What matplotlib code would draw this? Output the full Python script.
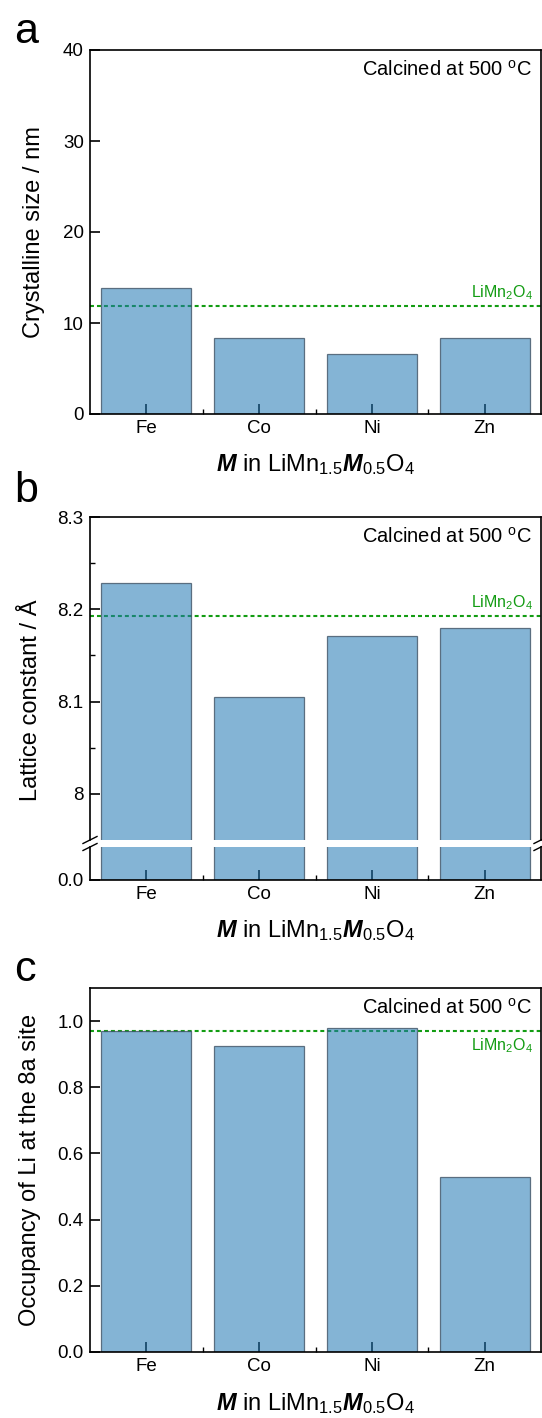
import matplotlib
matplotlib.use("Agg")
import matplotlib.pyplot as plt
from matplotlib.lines import Line2D
import numpy as np

plt.rcParams['font.family'] = ['Liberation Sans', 'DejaVu Sans']
plt.rcParams['mathtext.fontset'] = 'custom'
plt.rcParams['mathtext.rm'] = 'Liberation Sans'
plt.rcParams['mathtext.it'] = 'Liberation Sans:italic'
plt.rcParams['mathtext.bf'] = 'Liberation Sans:bold'
plt.rcParams['mathtext.bfit'] = 'Liberation Sans:italic:bold'

# dopant metals and measured quantities
metals = ['Fe', 'Co', 'Ni', 'Zn']
cryst_size = [13.8, 8.4, 6.6, 8.4]          # nm
lattice_const = [8.229, 8.105, 8.171, 8.180]  # Angstrom
li_occupancy = [0.971, 0.925, 0.978, 0.528]
# undoped LiMn2O4 reference values
ref_size = 11.9
ref_lattice = 8.193
ref_occupancy = 0.970

W, H = 542, 1418
fig = plt.figure(figsize=(W / 100, H / 100), dpi=100)

bar_face = (0.122, 0.467, 0.706, 0.55)
bar_edge = (0.25, 0.33, 0.40, 0.8)
green = '#129c12'
xpos = np.arange(1, len(metals) + 1)
xlab = r'$\mathbfit{M}$ in LiMn$_{1.5}\mathbfit{M}_{0.5}$O$_4$'
calc_txt = r'Calcined at 500 $^{\mathrm{o}}$C'
ref_txt = r'LiMn$_2$O$_4$'


def add_ax(left, top, right, bottom):
    return fig.add_axes([left / W, 1 - bottom / H, (right - left) / W, (bottom - top) / H])


def style(ax, xticks=True):
    for s in ax.spines.values():
        s.set_linewidth(1.2)
    ax.set_xlim(0.5, 4.5)
    ax.tick_params(direction='in', which='major', length=7, width=1.2, labelsize=13.5, pad=4.5,
                   top=False, right=False)
    ax.tick_params(direction='in', which='minor', length=3.5, width=1.0, top=False, right=False)
    if xticks:
        ax.set_xticks(xpos)
        ax.set_xticklabels(metals)
        ax.set_xticks([1.5, 2.5, 3.5], minor=True)
    else:
        ax.set_xticks([])


def bars(ax, vals):
    ax.bar(xpos, vals, width=0.8, color=bar_face, edgecolor=bar_edge, linewidth=0.9, zorder=2)


def ref_line(ax, val, dy):
    ax.axhline(val, color=green, lw=1.5, ls=(0, (1.9, 1.45)), zorder=1)
    ax.annotate(ref_txt, xy=(1, val), xycoords=('axes fraction', 'data'),
                xytext=(-8, dy), textcoords='offset pixels', ha='right', va='baseline',
                color=green, fontsize=11.5)


def calc_label(ax):
    ax.annotate(calc_txt, xy=(1, 1), xycoords='axes fraction', xytext=(-9, -26),
                textcoords='offset pixels', ha='right', va='baseline', fontsize=14.5)


def panel_text(letter, ybase):
    fig.text(14 / W, 1 - ybase / H, letter, fontsize=31, va='baseline', ha='left')


def ylab(text, xright, ycen):
    fig.text(xright / W, 1 - ycen / H, text, rotation=90, ha='right', va='center', fontsize=17)


def xlabel(ybase):
    fig.text(315.5 / W, 1 - ybase / H, xlab, ha='center', va='baseline', fontsize=17)


# (a) crystalline size
ax = add_ax(90, 50, 541, 414)
bars(ax, cryst_size)
ref_line(ax, ref_size, 8)
ax.set_ylim(0, 40)
ax.set_yticks([0, 10, 20, 30, 40])
style(ax)
calc_label(ax)
panel_text('a', 43)
ylab('Crystalline size / nm', 45.5, 232)
xlabel(471)

# (b) lattice constant, broken y axis
ax_t = add_ax(90, 517, 541, 840)
ax_b = add_ax(90, 847, 541, 880)
bars(ax_t, lattice_const)
bars(ax_b, lattice_const)
ref_line(ax_t, ref_lattice, 8)
ax_t.set_ylim(7.95, 8.3)
ax_t.set_yticks([8.0, 8.1, 8.2, 8.3])
ax_t.set_yticklabels(['8', '8.1', '8.2', '8.3'])
ax_t.set_yticks([8.05, 8.15, 8.25], minor=True)
style(ax_t, xticks=False)
ax_t.spines['bottom'].set_visible(False)
ax_b.set_ylim(0, 1)
ax_b.set_yticks([0])
ax_b.set_yticklabels(['0.0'])
style(ax_b)
ax_b.spines['top'].set_visible(False)
calc_label(ax_t)
# break marks on both side spines
for xs in (90, 541):
    for yb in (840, 847):
        fig.add_artist(Line2D([(xs - 7) / W, (xs + 7) / W],
                              [1 - (yb + 3.5) / H, 1 - (yb - 3.5) / H],
                              transform=fig.transFigure, color='black', lw=1.0))
panel_text('b', 502)
ylab('Lattice constant / Å', 42, 700)
xlabel(937)

# (c) Li occupancy at 8a
ax = add_ax(90, 988, 541, 1352)
bars(ax, li_occupancy)
ref_line(ax, ref_occupancy, -19)
ax.set_ylim(0, 1.1)
ax.set_yticks([0, 0.2, 0.4, 0.6, 0.8, 1.0])
ax.set_yticklabels(['0.0', '0.2', '0.4', '0.6', '0.8', '1.0'])
style(ax)
calc_label(ax)
panel_text('c', 981)
ylab('Occupancy of Li at the 8a site', 41.5, 1170)
xlabel(1410)

fig.savefig('out.png', dpi=100)
